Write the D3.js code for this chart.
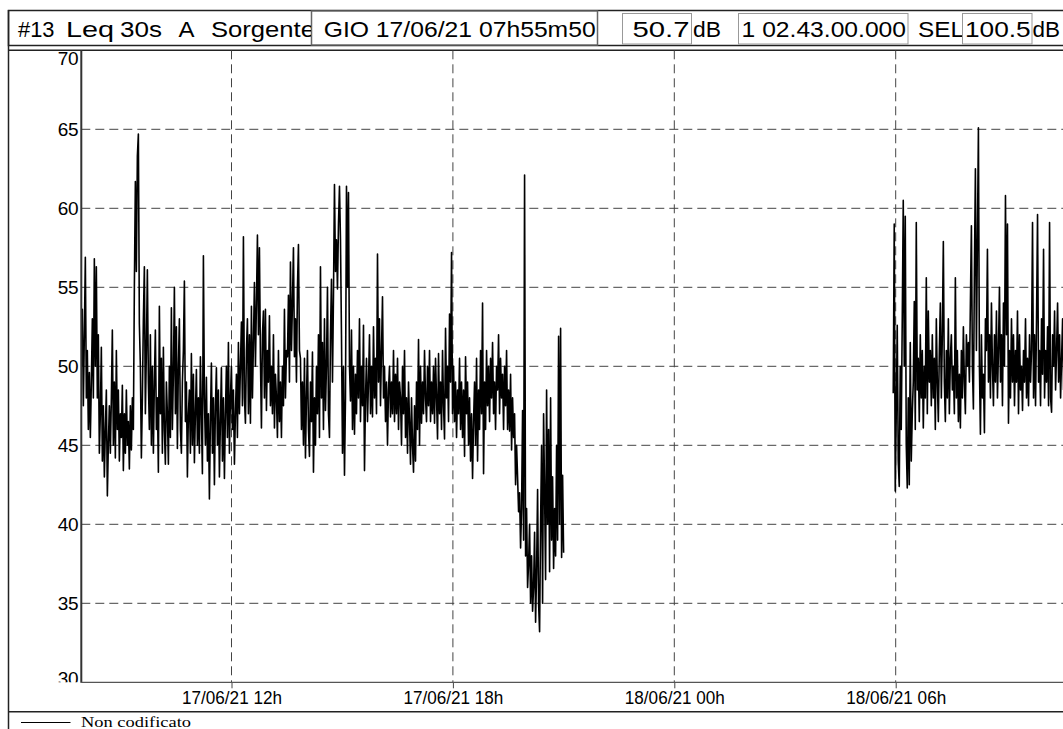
<!DOCTYPE html>
<html>
<head>
<meta charset="utf-8">
<script src="https://cdn.jsdelivr.net/npm/d3@7"></script>
<style>
  html, body { margin: 0; padding: 0; background: #fff; }
  svg { display: block; }
</style>
</head>
<body>
<svg id="chart" width="1063" height="729"></svg>
<script>
// Header fields
const headerTitle = ['#13', 'Leq', '30s', 'A', 'Sorgente'];
const headerStart = 'GIO 17/06/21 07h55m50';
const headerLeq = '50.7';
const headerDuration = '1 02.43.00.000';
const headerSel = '100.5';
const headerUnit = 'dB';
const legendLabel = 'Non codificato';

// Axes
const yTicks = [30, 35, 40, 45, 50, 55, 60, 65, 70];
const yGrid = [35, 40, 45, 50, 55, 60, 65];
const xTickTimes = ['2021-06-17 12:00:00', '2021-06-17 18:00:00', '2021-06-18 00:00:00', '2021-06-18 06:00:00'];
const xTickLabels = ['17/06/21 12h', '17/06/21 18h', '18/06/21 00h', '18/06/21 06h'];

const seg1Start = '2021-06-17 07:55:50';
const seg1End = '2021-06-17 21:00:00';
const seg1Values = [
  50, 53.6, 47.5, 52, 56.9, 48, 51, 46, 49.6, 45.5,
  49, 53, 48, 56.8, 50, 56.3, 48, 52, 44.5, 47,
  51.2, 44, 47.5, 43, 46, 48.5, 41.8, 45, 47.5, 44.5,
  48, 52.3, 45, 49, 44.2, 51, 46, 48.5, 44, 47,
  45.5, 48.8, 43.4, 47, 44.5, 48.5, 45, 46.5, 43.5, 47.5,
  44.7, 48, 46, 55, 61.7, 56, 63.3, 64.7, 52.7, 50,
  44.2, 48, 53, 56.3, 47, 51, 56.1, 49, 46, 52,
  45, 50, 44.5, 49, 52.3, 46, 48, 43.3, 53.8, 47,
  50.5, 44.5, 51.2, 46, 43.8, 49, 47, 43.8, 50, 45.5,
  53.7, 46, 49.5, 55, 47, 52.5, 44.8, 50, 53, 46,
  44.5, 49, 51, 55.4, 46.5, 49, 43, 47, 48.5, 44.5,
  50.8, 45, 49.5, 43.9, 47, 49.8, 45, 48, 44.5, 50.6,
  47, 43.2, 57, 48, 45, 49.3, 44, 47, 41.6, 46.5,
  50.2, 44.5, 48, 42.5, 47.5, 49.9, 45, 48.5, 43, 46.5,
  49.9, 44, 48, 42.9, 47, 50, 45.5, 51.5, 44.5, 48,
  50, 46, 48.5, 43.8, 47, 49.5, 45.5, 51.5, 47, 50,
  52.8, 47.5, 58.2, 48, 46.4, 51, 53, 47, 52, 46.4,
  53.8, 48, 51.5, 55.3, 50, 54, 58.3, 52, 57.5, 50.5,
  46.1, 52, 53.5, 48, 53.6, 47.2, 51, 49, 53.2, 47.5,
  50, 47, 52, 46.1, 49.5, 48, 45.5, 51, 46.5, 49,
  45.5, 50, 47.5, 53.6, 48, 51, 50.6, 54.5, 49, 56.6,
  51, 54, 57.5, 50.6, 53, 49, 55, 57.7, 51, 50.5,
  46, 49, 45, 50.5, 44.2, 48, 51, 46, 44.3, 49,
  46.5, 50.9, 43.3, 48, 45, 50, 47, 52, 45.5, 56.3,
  48, 51.5, 46, 53, 47.2, 50, 55, 47, 45.5, 52,
  55.5, 49, 54.5, 61.5, 56, 58, 54.9, 59, 61.4, 58,
  52, 44.5, 50, 43.1, 48, 61.4, 55, 61, 50, 47.8,
  52.3, 46, 50, 45.7, 49.5, 47, 51, 48, 53, 46.5,
  50, 47.5, 52.6, 43.4, 48, 50.5, 46.5, 49, 52, 47,
  50, 46.8, 52.5, 48, 50.5, 47, 57.1, 49, 53, 47.5,
  51, 54.4, 48, 50, 46.5, 49, 45, 48.5, 50, 46.8,
  49, 47, 51, 46.5, 49.5, 47, 50.5, 46, 49, 48,
  45, 50, 47, 51, 45.5, 48, 44.5, 49, 46.5, 43.8,
  48, 45, 43.3, 47.5, 44, 49, 46, 51.7, 45, 50,
  46.4, 49, 47, 51, 48, 46.5, 50, 47.5, 51, 46.5,
  49, 47, 50, 46.4, 50.5, 48, 45.4, 50.8, 47, 49,
  46, 51, 47.5, 45.4, 52.4, 48, 50, 46.5, 53.3, 49,
  57.2, 47, 50, 46.5, 49, 45.5, 48.5, 47, 50.5, 46,
  49, 45.5, 48.5, 44.3, 50.6, 47, 49, 45, 48, 44,
  47, 42.9, 46.5, 49, 45, 50.5, 44, 48.5, 46, 51,
  47, 54, 43.2, 49, 46, 51, 47.5, 50, 46.5, 50.5,
  48, 51.5, 47, 49, 46, 50, 48.5, 52, 47, 50.5,
  48, 49.5, 46, 50, 47.5, 51, 46, 48.5, 45.9, 49.5,
  44.7, 48, 45.5, 47, 42.5, 45, 43, 40.8, 42, 38.5,
  41, 47.2, 39, 62.1, 38, 41, 36, 37.5, 40, 35,
  38, 34.5, 36, 39.5, 33.8, 37, 42.2, 35, 33.2, 40,
  45, 35, 47, 42, 36.5, 48.5, 40, 46, 37, 48,
  39, 43, 37.2, 41, 38, 45, 39, 51.9, 40, 52.4,
  37.9, 43.1, 38.2
];

const seg2Start = '2021-06-18 05:56:00';
const seg2End = '2021-06-18 10:33:00';
const seg2Values = [
  48.3, 59, 42.1, 47, 52.6, 44, 42.4, 50, 46, 53,
  60.5, 50, 59.5, 45, 42.3, 48, 42.5, 51.5, 44, 47,
  49, 54.1, 46, 59.1, 48.5, 50.5, 46.5, 52, 48, 51,
  46.1, 50, 48, 55.6, 47, 53.5, 49, 51, 47.5, 52,
  48, 50.5, 46, 53, 49, 46.5, 51, 54, 48, 52,
  57.9, 49, 46.5, 51, 48, 53, 47, 50.5, 52, 48.5,
  50, 47, 55.6, 48, 51, 46.5, 49.5, 46.1, 51, 48,
  52.5, 49, 47, 52, 50, 51.5, 49, 54, 58.9, 50,
  47.3, 56, 62.5, 51, 58, 65.1, 50, 45.7, 52, 48,
  49.5, 45.8, 53, 51, 57.4, 49, 52, 48, 54, 50,
  47.5, 52, 49, 53.5, 48, 51, 55, 49, 52, 47.5,
  54, 50, 60.8, 52, 59, 46.4, 51, 48, 53, 49,
  52, 47.5, 51, 49, 53.5, 47, 52, 48.5, 50, 47.2,
  51, 49, 53, 48, 50.5, 47.5, 52, 49, 51, 59.1,
  48, 52, 47.5, 53, 59.6, 49, 51, 47.5, 53, 49.5,
  57.4, 48, 51, 49, 52.5, 47.5, 59.1, 48, 47.1, 52,
  50, 53.5, 48.5, 51, 54, 49, 52, 48, 50.5, 53, 48.5
];

const parseTime = d3.timeParse('%Y-%m-%d %H:%M:%S');

function buildSeries(start, end, values) {
  const t = d3.scaleLinear()
    .domain([0, values.length - 1])
    .range([+parseTime(start), +parseTime(end)]);
  return values.map((v, i) => ({ t: new Date(t(i)), v: v }));
}

const segments = [
  buildSeries(seg1Start, seg1End, seg1Values),
  buildSeries(seg2Start, seg2End, seg2Values)
];

const svg = d3.select('#chart');
const W = 1063, H = 729;
const plot = { left: 81.3, top: 50.3, right: 1063, bottom: 682.3 };
const sans = '"Liberation Sans", Arial, sans-serif';

const x = d3.scaleTime()
  .domain([parseTime(xTickTimes[0]), parseTime(xTickTimes[3])])
  .range([231.5, 895.7]);
const y = d3.scaleLinear().domain([30, 70]).range([plot.bottom, plot.top]);

const defs = svg.append('defs');
defs.append('clipPath').attr('id', 'plotClip')
  .append('rect')
  .attr('x', plot.left).attr('y', plot.top)
  .attr('width', plot.right - plot.left).attr('height', plot.bottom - plot.top);
defs.append('clipPath').attr('id', 'yLabClip')
  .append('rect')
  .attr('x', 0).attr('y', plot.top)
  .attr('width', plot.left).attr('height', plot.bottom - plot.top);
defs.append('clipPath').attr('id', 'box1Clip')
  .append('rect').attr('x', 9).attr('y', 11).attr('width', 302).attr('height', 34);

svg.append('rect').attr('width', W).attr('height', H).attr('fill', '#fff');

// Header
const hdr = svg.append('g');
hdr.append('rect').attr('x', 8.5).attr('y', 10.5).attr('width', W).attr('height', 35)
  .attr('fill', '#fff').attr('stroke', '#222').attr('stroke-width', 1.5);
hdr.append('rect').attr('x', 311.5).attr('y', 11).attr('width', 286).attr('height', 34)
  .attr('fill', '#fff').attr('stroke', '#666').attr('stroke-width', 1.5);
[[622.5, 69], [738.5, 169.5]].forEach(b => {
  hdr.append('rect').attr('x', b[0]).attr('y', 13.5).attr('width', b[1]).attr('height', 30.5)
    .attr('fill', '#fff').attr('stroke', '#999').attr('stroke-width', 1);
});

function headerText(str, x0, len, clip) {
  const t = hdr.append('text')
    .attr('x', x0).attr('y', 37)
    .attr('font-family', sans).attr('font-size', 22).attr('fill', '#000')
    .attr('textLength', len).attr('lengthAdjust', 'spacingAndGlyphs')
    .text(str);
  if (clip) t.attr('clip-path', 'url(#box1Clip)');
  return t;
}
const titlePos = [[18, 36.5], [66, 48], [120, 42], [178.5, 16], [211, 104]];
headerTitle.forEach((w, i) => headerText(w, titlePos[i][0], titlePos[i][1], true));
headerText(headerStart, 323.7, 272);
headerText(headerLeq, 632.5, 57);
headerText(headerUnit, 693, 28);
headerText(headerDuration, 741.6, 164.4);
headerText('SEL', 918, 46);
// box 5 drawn above SEL so the L is partly hidden like the original
hdr.append('rect').attr('x', 962.5).attr('y', 13.5).attr('width', 69.5).attr('height', 30.5)
  .attr('fill', '#fff').attr('stroke', '#999').attr('stroke-width', 1);
headerText(headerSel, 965, 65.7);
headerText(headerUnit, 1032.5, 27.5);

// Frame lines
svg.append('line').attr('x1', 8.5).attr('x2', 8.5).attr('y1', 10).attr('y2', H)
  .attr('stroke', '#222').attr('stroke-width', 1.5);
svg.append('line').attr('x1', 8).attr('x2', W).attr('y1', plot.top).attr('y2', plot.top)
  .attr('stroke', '#222').attr('stroke-width', 1.5);
svg.append('line').attr('x1', 8).attr('x2', W).attr('y1', 711.8).attr('y2', 711.8)
  .attr('stroke', '#222').attr('stroke-width', 1.5);

// Grid
const grid = svg.append('g').attr('clip-path', 'url(#plotClip)');
grid.selectAll('.hgrid').data(yGrid).enter().append('line')
  .attr('x1', plot.left).attr('x2', plot.right)
  .attr('y1', d => y(d)).attr('y2', d => y(d))
  .attr('stroke', '#444').attr('stroke-width', 1).attr('stroke-dasharray', '9,5');
grid.selectAll('.vgrid').data(xTickTimes).enter().append('line')
  .attr('x1', d => x(parseTime(d))).attr('x2', d => x(parseTime(d)))
  .attr('y1', plot.top).attr('y2', plot.bottom)
  .attr('stroke', '#444').attr('stroke-width', 1).attr('stroke-dasharray', '9,5');

// Data line
const line = d3.line().x(d => x(d.t)).y(d => y(d.v));
svg.append('g').attr('clip-path', 'url(#plotClip)')
  .selectAll('path').data(segments).enter().append('path')
  .attr('d', line)
  .attr('fill', 'none').attr('stroke', '#000').attr('stroke-width', 1.6)
  .attr('stroke-linejoin', 'round');

// Y axis (end labels pushed inside the plot height, as in the original)
const yAxisWrap = svg.append('g').attr('clip-path', 'url(#yLabClip)');
const yAxis = yAxisWrap.append('g').attr('transform', `translate(${plot.left},0)`)
  .call(d3.axisLeft(y).tickValues(yTicks).tickSize(0).tickPadding(3));
yAxis.select('.domain').remove();
yAxis.selectAll('text')
  .attr('font-family', sans).attr('font-size', 19).attr('fill', '#000')
  .attr('letter-spacing', -0.3)
  .attr('dy', d => d === 70 ? '0.75em' : d === 30 ? '0.12em' : '0.33em');
svg.append('line').attr('x1', plot.left).attr('x2', plot.left)
  .attr('y1', plot.top).attr('y2', plot.bottom + 0.5)
  .attr('stroke', '#333').attr('stroke-width', 2);

// X axis
const xAxis = svg.append('g').attr('transform', `translate(0,${plot.bottom})`)
  .call(d3.axisBottom(x)
    .tickValues(xTickTimes.map(parseTime))
    .tickFormat((d, i) => xTickLabels[i])
    .tickSize(6).tickPadding(3));
xAxis.select('.domain').remove();
xAxis.selectAll('.tick line').attr('stroke', '#444');
xAxis.selectAll('text')
  .attr('font-family', sans).attr('font-size', 17.5).attr('fill', '#000')
  .attr('textLength', 100).attr('lengthAdjust', 'spacingAndGlyphs');
svg.append('line').attr('x1', plot.left).attr('x2', W)
  .attr('y1', plot.bottom).attr('y2', plot.bottom)
  .attr('stroke', '#555').attr('stroke-width', 1.2);

// Legend
svg.append('line').attr('x1', 21).attr('x2', 70.5).attr('y1', 722.5).attr('y2', 722.5)
  .attr('stroke', '#000').attr('stroke-width', 1);
svg.append('text').attr('x', 81).attr('y', 727)
  .attr('font-family', '"Liberation Serif", "Times New Roman", serif').attr('font-size', 15.5)
  .attr('textLength', 110).attr('lengthAdjust', 'spacingAndGlyphs')
  .text(legendLabel);
</script>
</body>
</html>
